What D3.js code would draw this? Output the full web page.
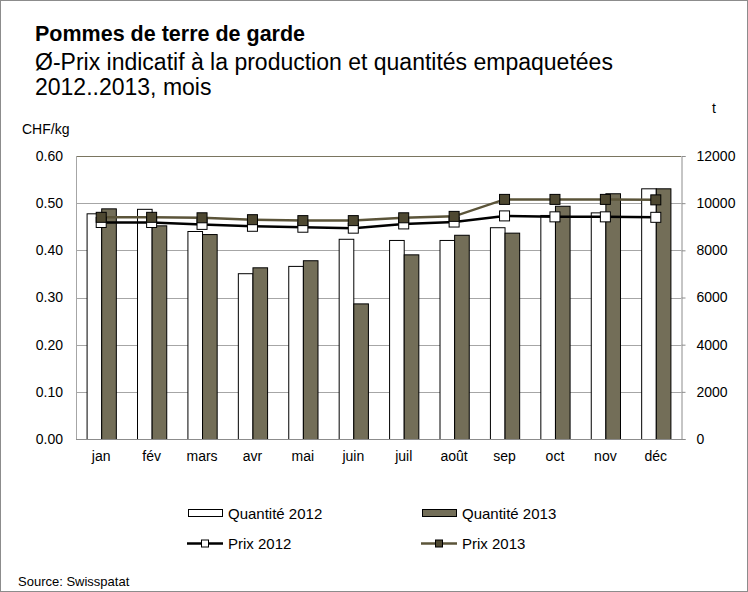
<!DOCTYPE html>
<html>
<head>
<meta charset="utf-8">
<script src="https://cdn.jsdelivr.net/npm/d3@7"></script>
<style>
  body { margin: 0; background: #fff; }
  svg { font-family: "Liberation Sans", Arial, sans-serif; display: block; }
</style>
</head>
<body>
<div id="chart"></div>
<script>
const months = ['jan', 'fév', 'mars', 'avr', 'mai', 'juin', 'juil', 'août', 'sep', 'oct', 'nov', 'déc'];
const qty2012 = [9570, 9760, 8820, 7030, 7340, 8490, 8440, 8440, 8980, 9500, 9610, 10630];
const qty2013 = [9780, 9060, 8690, 7280, 7580, 5750, 7830, 8660, 8750, 9890, 10420, 10630];
const price2012 = [0.459, 0.459, 0.455, 0.451, 0.449, 0.447, 0.456, 0.460, 0.473, 0.471, 0.471, 0.470];
const price2013 = [0.470, 0.470, 0.469, 0.465, 0.463, 0.463, 0.469, 0.472, 0.508, 0.508, 0.508, 0.507];
const leftTicks = [0, 0.1, 0.2, 0.3, 0.4, 0.5, 0.6];
const rightTicks = [0, 2000, 4000, 6000, 8000, 10000, 12000];

const W = 748, H = 592;
const plot = { left: 76, right: 681, top: 156, bottom: 439 };
const col2013 = '#736e58';
const line2013 = '#5b5439';
const mark2013 = '#4e4831';
const tickFont = 14;

const svg = d3.select('#chart').append('svg')
    .attr('width', W)
    .attr('height', H);

// outer frame
svg.append('rect')
    .attr('x', 0.5).attr('y', 0.5)
    .attr('width', W - 1).attr('height', H - 1)
    .attr('fill', 'none')
    .attr('stroke', '#8c8c8c');

// titles
svg.append('text').attr('x', 35).attr('y', 41)
    .attr('font-size', 21.5).attr('font-weight', 'bold').attr('fill', '#000')
    .text('Pommes de terre de garde');
svg.append('text').attr('x', 35).attr('y', 70)
    .attr('font-size', 23).attr('fill', '#000')
    .text('Ø-Prix indicatif à la production et quantités empaquetées');
svg.append('text').attr('x', 35).attr('y', 95)
    .attr('font-size', 23).attr('fill', '#000')
    .text('2012..2013, mois');
svg.append('text').attr('x', 22).attr('y', 134)
    .attr('font-size', 14).text('CHF/kg');
svg.append('text').attr('x', 712).attr('y', 113)
    .attr('font-size', 14).text('t');

const x = d3.scaleBand()
    .domain(months)
    .range([plot.left, plot.right])
    .paddingInner(0.42)
    .paddingOuter(0.21);
const xSub = d3.scaleBand()
    .domain(['2012', '2013'])
    .range([0, x.bandwidth()]);
const yLeft = d3.scaleLinear().domain([0, 0.6]).range([plot.bottom, plot.top]);
const yRight = d3.scaleLinear().domain([0, 12000]).range([plot.bottom, plot.top]);

// gridlines
svg.append('g')
    .selectAll('line')
    .data(leftTicks)
    .join('line')
    .attr('x1', plot.left).attr('x2', plot.right)
    .attr('y1', d => Math.round(yLeft(d)) + 0.5)
    .attr('y2', d => Math.round(yLeft(d)) + 0.5)
    .attr('stroke', d => d === 0.6 ? '#7a7560' : '#a6a6a6')
    .attr('stroke-width', 1);

// left vertical axis line
svg.append('line')
    .attr('x1', plot.left + 0.5).attr('x2', plot.left + 0.5)
    .attr('y1', plot.top).attr('y2', plot.bottom)
    .attr('stroke', '#a6a6a6');

// bars
const bars = svg.append('g');
bars.selectAll('rect.q12')
    .data(qty2012)
    .join('rect')
    .attr('class', 'q12')
    .attr('x', (d, i) => x(months[i]) + xSub('2012') + 0.5)
    .attr('y', d => yRight(d) + 0.5)
    .attr('width', xSub.bandwidth())
    .attr('height', d => plot.bottom - yRight(d))
    .attr('fill', '#fff')
    .attr('stroke', '#000')
    .attr('stroke-width', 1);
bars.selectAll('rect.q13')
    .data(qty2013)
    .join('rect')
    .attr('class', 'q13')
    .attr('x', (d, i) => x(months[i]) + xSub('2013') + 0.5)
    .attr('y', d => yRight(d) + 0.5)
    .attr('width', xSub.bandwidth())
    .attr('height', d => plot.bottom - yRight(d))
    .attr('fill', col2013)
    .attr('stroke', '#000')
    .attr('stroke-width', 1);

// right axis
const rightAxis = svg.append('g')
    .attr('transform', `translate(${plot.right + 0.5},0)`)
    .call(d3.axisRight(yRight).tickValues(rightTicks).tickSize(4).tickPadding(11).tickFormat(d3.format('d')));
rightAxis.select('.domain').attr('stroke', '#8c8c8c');
rightAxis.selectAll('.tick line').attr('stroke', '#8c8c8c');
rightAxis.selectAll('text').attr('font-size', tickFont).attr('fill', '#000')
    .attr('font-family', '"Liberation Sans", Arial, sans-serif');

// left axis labels
const leftAxis = svg.append('g')
    .attr('transform', `translate(${plot.left},0)`)
    .call(d3.axisLeft(yLeft).tickValues(leftTicks).tickSize(0).tickPadding(13).tickFormat(d3.format('.2f')));
leftAxis.select('.domain').remove();
leftAxis.selectAll('text').attr('font-size', tickFont).attr('fill', '#000')
    .attr('font-family', '"Liberation Sans", Arial, sans-serif');

// bottom axis
svg.append('line')
    .attr('x1', plot.left).attr('x2', plot.right + 4)
    .attr('y1', plot.bottom + 0.5).attr('y2', plot.bottom + 0.5)
    .attr('stroke', '#8c8c8c');
const bottomAxis = svg.append('g')
    .attr('transform', `translate(0,${plot.bottom})`)
    .call(d3.axisBottom(x).tickSize(0).tickPadding(12));
bottomAxis.select('.domain').remove();
bottomAxis.selectAll('text').attr('font-size', tickFont).attr('fill', '#000')
    .attr('font-family', '"Liberation Sans", Arial, sans-serif');

// price lines
const cx = m => x(m) + x.bandwidth() / 2;
const line = d3.line()
    .x((d, i) => cx(months[i]))
    .y(d => yLeft(d));

svg.append('path')
    .datum(price2013)
    .attr('d', line)
    .attr('fill', 'none')
    .attr('stroke', line2013)
    .attr('stroke-width', 2.5);
svg.append('path')
    .datum(price2012)
    .attr('d', line)
    .attr('fill', 'none')
    .attr('stroke', '#000')
    .attr('stroke-width', 2.5);

const mk = 10;
svg.append('g').selectAll('rect')
    .data(price2012)
    .join('rect')
    .attr('x', (d, i) => cx(months[i]) - mk / 2)
    .attr('y', d => yLeft(d) - mk / 2)
    .attr('width', mk).attr('height', mk)
    .attr('fill', '#fff')
    .attr('stroke', '#000')
    .attr('stroke-width', 1);
svg.append('g').selectAll('rect')
    .data(price2013)
    .join('rect')
    .attr('x', (d, i) => cx(months[i]) - mk / 2)
    .attr('y', d => yLeft(d) - mk / 2)
    .attr('width', mk).attr('height', mk)
    .attr('fill', mark2013)
    .attr('stroke', '#000')
    .attr('stroke-width', 1);

// legend
const legend = svg.append('g').attr('font-size', 15);
function legendBar(lx, ly, fill, label) {
    legend.append('rect')
        .attr('x', lx + 0.5).attr('y', ly - 3.5)
        .attr('width', 34).attr('height', 7)
        .attr('fill', fill).attr('stroke', '#000');
    legend.append('text').attr('x', lx + 40).attr('y', ly + 5.5).text(label);
}
function legendLine(lx, ly, stroke, fill, label) {
    legend.append('line')
        .attr('x1', lx).attr('x2', lx + 36)
        .attr('y1', ly + 0.5).attr('y2', ly + 0.5)
        .attr('stroke', stroke).attr('stroke-width', 2.5);
    legend.append('rect')
        .attr('x', lx + 18 - 3.5).attr('y', ly - 3)
        .attr('width', 7).attr('height', 7)
        .attr('fill', fill).attr('stroke', '#000');
    legend.append('text').attr('x', lx + 41).attr('y', ly + 5.5).text(label);
}
legendBar(188, 513, '#fff', 'Quantité 2012');
legendBar(422, 513, col2013, 'Quantité 2013');
legendLine(187, 543, '#000', '#fff', 'Prix 2012');
legendLine(421, 543, line2013, mark2013, 'Prix 2013');

svg.append('text').attr('x', 18).attr('y', 586)
    .attr('font-size', 13).text('Source: Swisspatat');
</script>
</body>
</html>
